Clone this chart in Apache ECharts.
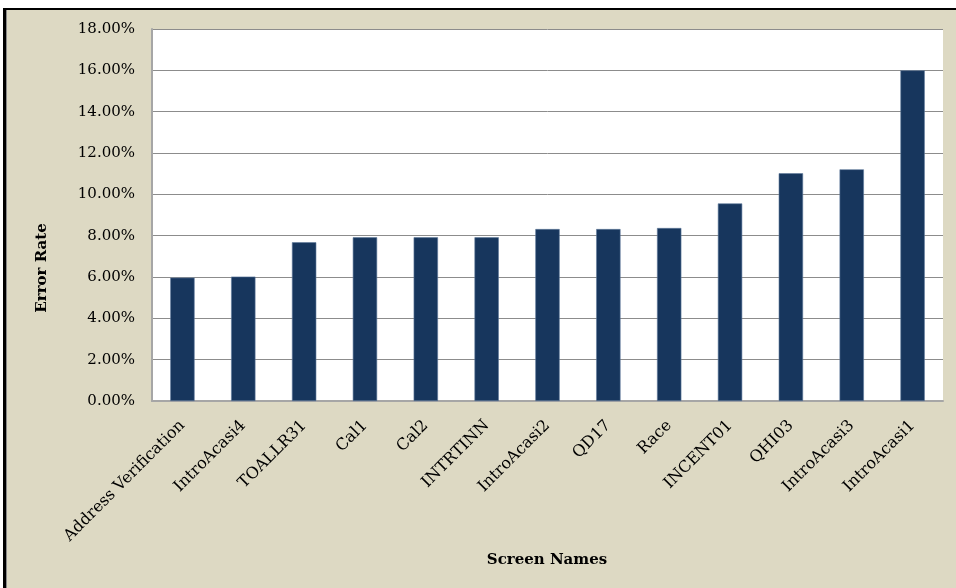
<!DOCTYPE html>
<html>
<head>
<meta charset="utf-8">
<script src="https://cdn.jsdelivr.net/npm/echarts@6/dist/echarts.min.js"></script>
<style>html,body{margin:0;padding:0;background:#fff}#c{width:956px;height:588px}</style>
</head>
<body>
<div id="c"></div>
<script>
const categories = ["Address Verification","IntroAcasi4","TOALLR31","Cal1","Cal2","INTRTINN","IntroAcasi2","QD17","Race","INCENT01","QHI03","IntroAcasi3","IntroAcasi1"];
const errorRate = [5.97, 6.02, 7.68, 7.92, 7.92, 7.92, 8.32, 8.32, 8.37, 9.56, 11.02, 11.21, 16.0];
const yTicks = {min: 0, max: 18, interval: 2};
const yTitle = "Error Rate";
const xTitle = "Screen Names";

const FONT = "DejaVu Serif";
const chart = echarts.init(document.getElementById('c'), null, {renderer: 'canvas'});
chart.setOption({
  animation: false,
  backgroundColor: '#DDD9C3',
  grid: {left: 152, top: 29, right: 13, bottom: 187, show: true, backgroundColor: '#ffffff', borderWidth: 0},
  xAxis: {
    type: 'category',
    data: categories,
    axisLine: {show: true, lineStyle: {color: '#a6a6a6', width: 2}},
    axisTick: {show: false},
    axisLabel: {rotate: 45, margin: 22, interval: 0, color: '#000', fontFamily: FONT, fontSize: 16}
  },
  yAxis: {
    type: 'value',
    min: yTicks.min, max: yTicks.max, interval: yTicks.interval,
    axisLine: {show: true, lineStyle: {color: '#a6a6a6', width: 2}},
    axisTick: {show: false},
    splitLine: {show: true, lineStyle: {color: '#8c8c8c', width: 1}},
    axisLabel: {margin: 17, color: '#000', fontFamily: FONT, fontSize: 15,
      formatter: v => v.toFixed(2) + '%'}
  },
  series: [{
    type: 'bar',
    data: errorRate,
    barWidth: '40%',
    itemStyle: {color: '#17365D', borderColor: '#5f7a9c', borderWidth: 0.6}
  }],
  graphic: [
    {type: 'rect', shape: {x: 0, y: 0, width: 956, height: 8}, style: {fill: '#fff'}, silent: true},
    {type: 'rect', shape: {x: 0, y: 0, width: 3, height: 588}, style: {fill: '#fff'}, silent: true},
    {type: 'rect', shape: {x: 3, y: 8, width: 953, height: 2}, style: {fill: '#000'}, silent: true},
    {type: 'rect', shape: {x: 3, y: 8, width: 3, height: 580}, style: {fill: '#000'}, silent: true},
    {type: 'rect', shape: {x: 6, y: 10, width: 1, height: 578}, style: {fill: '#8a8a8a'}, silent: true},
    {type: 'text', x: 42, y: 268, rotation: Math.PI / 2,
      style: {text: yTitle, fontFamily: FONT, fontWeight: 'bold', fontSize: 15, fill: '#000', align: 'center', verticalAlign: 'middle'}},
    {type: 'text', x: 547, y: 560,
      style: {text: xTitle, fontFamily: FONT, fontWeight: 'bold', fontSize: 15, fill: '#000', align: 'center', verticalAlign: 'middle'}}
  ]
});
</script>
</body>
</html>
